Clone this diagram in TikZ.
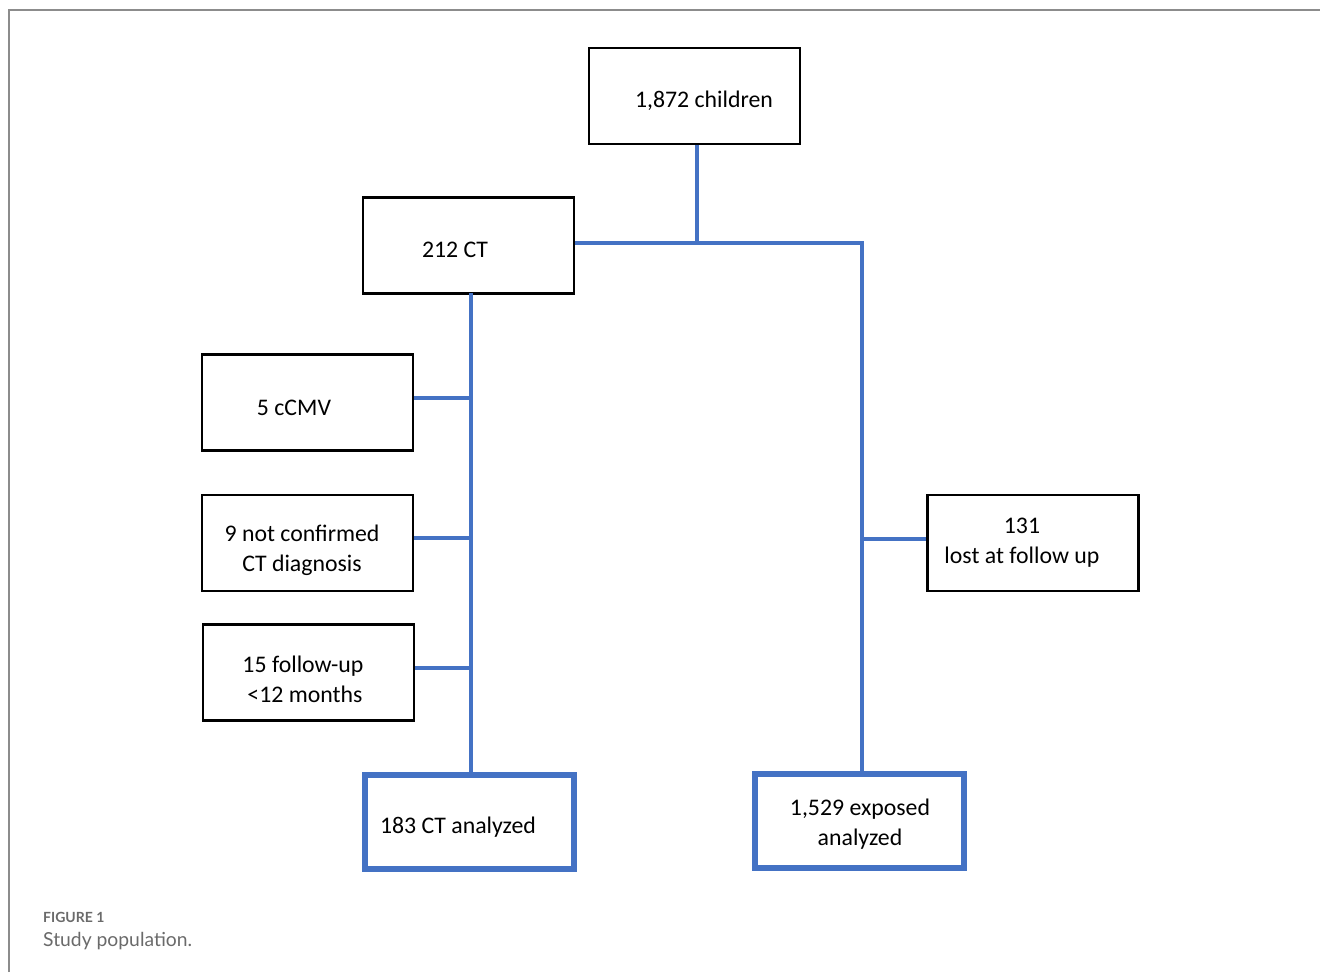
\documentclass[tikz,border=0pt]{standalone}
\usepackage{fontspec}
\setmainfont{Carlito}
\newfontfamily\capfont{Lato}
\definecolor{conn}{HTML}{4472C4}
\definecolor{frame}{HTML}{8C8C8C}
\definecolor{captxt}{HTML}{6A6A6A}
\begin{document}
\begin{tikzpicture}[x=1pt,y=-1pt,
  box/.style={draw=black,line width=2.4pt,minimum width=211pt,minimum height=96pt,inner sep=0pt},
  endbox/.style={draw=conn,line width=6pt,minimum width=209pt,minimum height=94pt,inner sep=0pt},
  link/.style={draw=conn,line width=4pt},
  btext/.style={font=\fontsize{23.8}{30}\selectfont,align=center,inner sep=0pt}]
\useasboundingbox (0,0) rectangle (1320,972);
\draw[frame,line width=1.3pt] (9,972) -- (9,10) -- (1320,10);
% boxes
\node[box] (children) at (694.5,96) {};
\node[btext] (tchildren) at (704,101) {1,872 children};
\node[box] (ct) at (468.5,245.5) {};
\node[btext] (tct) at (455,250) {212 CT};
\node[box] (cmv) at (307.5,402.5) {};
\node[btext] (tcmv) at (294,408) {5 cCMV};
\node[box] (nc) at (307.5,543) {};
\node[btext] (tnc) at (302,550) {9 not confirmed\\CT diagnosis};
\node[box] (fu) at (308.5,672.5) {};
\node[btext] (tfu) at (303,679) {15 follow-up\\\,<12 months};
\node[box] (lost) at (1033,543) {};
\node[btext] (tlost) at (1022,543) {131\\lost at follow up};
\node[endbox] (an) at (469,822) {};
\node[btext] (tan) at (458,827) {183 CT analyzed};
\node[endbox] (ex) at (859.5,821) {};
\node[btext] (tex) at (860,824) {1,529 exposed\\analyzed};
% connectors
\coordinate (j) at (862,243);
\coordinate (jt) at (697,243);
\coordinate (ctb) at (471,293);
\coordinate (anb) at (471,773);
\coordinate (exb) at (862,772);
\draw[link] (children.south -| jt) -- (jt);
\draw[link] (ct.east |- j) -- (j) -- (exb);
\draw[link] (ctb) -- (anb);
\draw[link] (cmv.east |- 0,398) -- (471,398);
\draw[link] (nc.east |- 0,538) -- (471,538);
\draw[link] (fu.east |- 0,668) -- (471,668);
\draw[link] (862,539) -- (lost.west |- 0,539);
% caption
\node[anchor=west,inner sep=0pt,text=captxt,font=\capfont\bfseries\fontsize{14}{16}\selectfont] (fig) at (43,917) {FIGURE 1};
\node[anchor=west,inner sep=0pt,text=captxt,font=\capfont\fontsize{19.3}{23}\selectfont] (cap) at (43,941) {Study population.};
\end{tikzpicture}
\end{document}
